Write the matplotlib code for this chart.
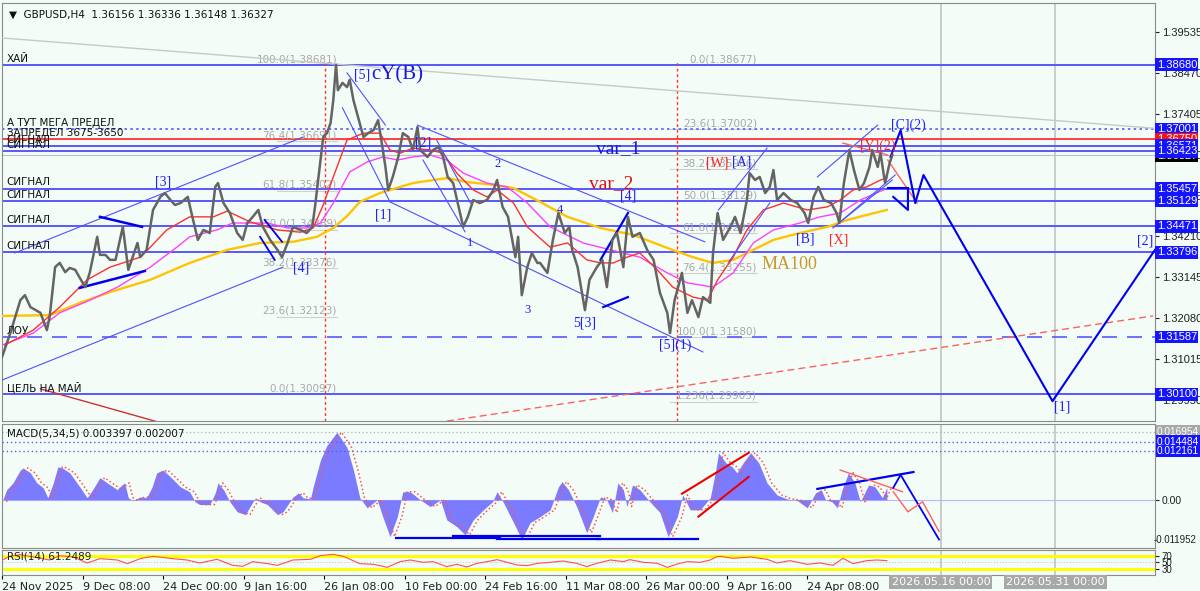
import numpy as np
import matplotlib.pyplot as plt
import matplotlib.transforms as mtransforms

# ---- price (H4 bars) ----
price_bar = [0, 9, 20, 25, 31, 42, 49, 52, 58, 63,
             69, 74, 80, 85, 91, 96, 104, 107, 113, 118,
             124, 132, 138, 148, 151, 158, 165, 173, 178, 184,
             189, 195, 203, 208, 214, 220, 227, 233, 236, 242,
             249, 257, 263, 268, 274, 280, 285, 293, 301, 306,
             312, 318, 326, 333, 339, 342, 348, 351, 355, 359,
             362, 365, 367, 372, 377, 380, 384, 389, 395, 400,
             406, 411, 415, 419, 422, 427, 433, 438, 444, 449,
             454, 457, 465, 471, 477, 482, 487, 493, 498, 504,
             509, 515, 522, 530, 537, 541, 547, 553, 557, 561,
             564, 568, 574, 579, 585, 588, 596, 602, 608, 615,
             620, 623, 629, 637, 642, 650, 656, 661, 667, 672,
             679, 684, 689, 697, 705, 712, 719, 727, 730, 735,
             743, 749, 754, 761, 766, 774, 777, 782, 788, 796,
             801, 807, 814, 817, 823, 828, 834, 839, 843, 847,
             854, 862, 869, 877, 881, 887, 892, 898, 906, 912,
             915, 920, 926, 931, 937, 942, 948, 951, 957, 960,
             965, 970, 973]
price_close = [1.3107, 1.3169, 1.3255, 1.3268, 1.3237, 1.3222, 1.3177, 1.3211, 1.3341, 1.3352,
               1.3328, 1.3339, 1.3334, 1.3313, 1.3289, 1.3328, 1.3420, 1.3373, 1.3373, 1.3360,
               1.3360, 1.3446, 1.3334, 1.3404, 1.3367, 1.3386, 1.3490, 1.3524, 1.3534, 1.3516,
               1.3503, 1.3508, 1.3524, 1.3472, 1.3412, 1.3438, 1.3430, 1.3550, 1.3560, 1.3508,
               1.3482, 1.3430, 1.3412, 1.3456, 1.3472, 1.3490, 1.3446, 1.3412, 1.3386, 1.3367,
               1.3404, 1.3446, 1.3438, 1.3430, 1.3446, 1.3498, 1.3620, 1.3680, 1.3690, 1.3716,
               1.3776, 1.3868, 1.3802, 1.3821, 1.3810, 1.3829, 1.3776, 1.3732, 1.3680, 1.3690,
               1.3698, 1.3724, 1.3664, 1.3602, 1.3542, 1.3576, 1.3628, 1.3690, 1.3680, 1.3646,
               1.3706, 1.3646, 1.3628, 1.3646, 1.3654, 1.3628, 1.3576, 1.3560, 1.3508, 1.3446,
               1.3472, 1.3516, 1.3508, 1.3516, 1.3542, 1.3568, 1.3498, 1.3472, 1.3420, 1.3367,
               1.3420, 1.3268, 1.3341, 1.3378, 1.3352, 1.3352, 1.3326, 1.3412, 1.3482, 1.3430,
               1.3446, 1.3386, 1.3341, 1.3229, 1.3308, 1.3341, 1.3360, 1.3289, 1.3412, 1.3430,
               1.3341, 1.3472, 1.3420, 1.3430, 1.3386, 1.3360, 1.3274, 1.3222, 1.3169, 1.3255,
               1.3326, 1.3222, 1.3255, 1.3211, 1.3263, 1.3248, 1.3378, 1.3482, 1.3412, 1.3446,
               1.3472, 1.3430, 1.3516, 1.3586, 1.3568, 1.3576, 1.3534, 1.3550, 1.3594, 1.3516,
               1.3534, 1.3516, 1.3508, 1.3482, 1.3456, 1.3524, 1.3550, 1.3516, 1.3508, 1.3482,
               1.3456, 1.3560, 1.3646, 1.3594, 1.3542, 1.3560, 1.3602, 1.3646, 1.3602, 1.3638,
               1.3560, 1.3612, 1.3633]

ma_fast_bar = [3, 34, 63, 93, 118, 151, 162, 180, 205, 231,
               246, 271, 301, 326, 340, 351, 362, 377, 395, 413,
               424, 435, 449, 468, 482, 497, 515, 530, 541, 559,
               574, 599, 618, 639, 654, 668, 683, 697, 716, 733,
               755, 771, 782, 799, 814, 832, 854, 880, 902, 916,
               930, 945, 960, 967]
ma_fast = [1.3138, 1.3177, 1.3237, 1.3308, 1.3341, 1.3367, 1.3393, 1.3438, 1.3472, 1.3472,
           1.3487, 1.3459, 1.3438, 1.3432, 1.3443, 1.3503, 1.3576, 1.3672, 1.3690, 1.3690,
           1.3646, 1.3638, 1.3651, 1.3646, 1.3638, 1.3586, 1.3542, 1.3524, 1.3542, 1.3508,
           1.3446, 1.3393, 1.3404, 1.3360, 1.3352, 1.3352, 1.3367, 1.3378, 1.3334, 1.3289,
           1.3263, 1.3255, 1.3308, 1.3367, 1.3438, 1.3490, 1.3508, 1.3490, 1.3498, 1.3516,
           1.3542, 1.3550, 1.3568, 1.3573]
ma_mid_bar = [0, 34, 63, 96, 126, 162, 191, 205, 235, 252,
              290, 312, 333, 348, 362, 380, 399, 416, 432, 449,
              468, 486, 504, 530, 552, 574, 599, 635, 665, 697,
              727, 749, 777, 799, 821, 843, 872, 894, 916, 938, 963]
ma_mid = [1.3138, 1.3169, 1.3222, 1.3255, 1.3289, 1.3341, 1.3393, 1.3420, 1.3438, 1.3456,
          1.3456, 1.3443, 1.3443, 1.3456, 1.3508, 1.3589, 1.3615, 1.3628, 1.3620, 1.3628,
          1.3633, 1.3620, 1.3586, 1.3560, 1.3550, 1.3508, 1.3446, 1.3404, 1.3386, 1.3367,
          1.3326, 1.3300, 1.3289, 1.3326, 1.3404, 1.3438, 1.3456, 1.3472, 1.3482, 1.3516, 1.3542]
ma100_bar = [0, 52, 85, 118, 162, 205, 246, 282, 318, 344,
             362, 377, 391, 413, 449, 486, 508, 537, 559, 588,
             618, 654, 690, 727, 755, 777, 799, 821, 843, 872,
             902, 924, 945, 967]
ma100 = [1.3214, 1.3216, 1.3248, 1.3276, 1.3308, 1.3352, 1.3386, 1.3404, 1.3407, 1.3420,
         1.3443, 1.3474, 1.3511, 1.3534, 1.3560, 1.3573, 1.3563, 1.3555, 1.3547, 1.3511,
         1.3472, 1.3443, 1.3425, 1.3391, 1.3367, 1.3352, 1.3360, 1.3386, 1.3412, 1.3430,
         1.3446, 1.3464, 1.3477, 1.3490]

macd_bar = [0, 5, 12, 20, 23, 31, 38, 45, 50, 56,
            61, 66, 74, 85, 93, 99, 107, 115, 126, 131,
            134, 138, 143, 151, 158, 164, 169, 176, 184, 195,
            205, 211, 216, 227, 233, 236, 242, 249, 257, 266,
            271, 277, 282, 290, 301, 307, 318, 324, 329, 337,
            340, 348, 355, 366, 377, 384, 391, 399, 410, 416,
            424, 432, 438, 446, 457, 468, 479, 486, 497, 506,
            515, 526, 536, 541, 548, 559, 568, 577, 588, 599,
            608, 612, 619, 628, 639, 646, 654, 661, 667, 673,
            679, 683, 689, 697, 708, 719, 728, 738, 744, 752,
            763, 774, 780, 783, 791, 798, 803, 810, 818, 827,
            836, 847, 858, 869, 880, 889, 895, 900, 907, 913,
            918, 925, 932, 938, 947, 954, 962, 967]
macd_val = [-0.0005, 0.0025, 0.0042, 0.0074, 0.0079, 0.0067, 0.0042, 0.0030, 0.0005, 0.0042,
            0.0082, 0.0079, 0.0067, 0.0032, 0.0005, 0.0025, 0.0055, 0.0042, 0.0025, 0.0037,
            0.0042, 0.0005, -0.0002, 0.0007, 0.0005, 0.0032, 0.0067, 0.0074, 0.0057, 0.0032,
            0.0020, -0.0005, -0.0012, -0.0012, 0.0017, 0.0042, 0.0025, -0.0005, -0.0030, -0.0037,
            -0.0017, 0.0005, -0.0005, -0.0012, -0.0037, -0.0030, 0.0007, 0.0017, 0.0005, 0.0002,
            0.0032, 0.0099, 0.0135, 0.0168, 0.0130, 0.0074, 0.0005, -0.0020, 0.0, -0.0042,
            -0.0092, -0.0042, 0.0020, 0.0020, 0.0, -0.0017, 0.0, -0.0050, -0.0067, -0.0087,
            -0.0050, -0.0025, -0.0005, 0.0020, -0.0007, -0.0057, -0.0099, -0.0057, -0.0042, -0.0025,
            0.0032, 0.0045, 0.0025, -0.0017, -0.0082, -0.0042, 0.0007, 0.0, -0.0032, 0.0042,
            0.0025, -0.0017, 0.0037, 0.0025, -0.0005, -0.0032, -0.0092, -0.0042, 0.0012, -0.0025,
            -0.0025, 0.0005, 0.0074, 0.0117, 0.0092, 0.0082, 0.0067, 0.0092, 0.0117, 0.0092,
            0.0042, 0.0012, 0.0002, -0.0002, -0.0020, 0.0017, 0.0025, 0.0, -0.0005, -0.0020,
            0.0025, 0.0067, 0.0042, -0.0005, 0.0037, 0.0032, 0.0005, 0.0030]

rsi_bar = [0, 9, 20, 34, 52, 63, 78, 93, 107, 126,
           137, 151, 165, 187, 202, 216, 235, 252, 263, 274,
           290, 301, 318, 337, 348, 362, 373, 391, 406, 421,
           435, 446, 460, 471, 486, 497, 508, 519, 530, 541,
           552, 563, 574, 585, 599, 613, 628, 639, 650, 665,
           679, 686, 701, 716, 727, 738, 749, 763, 774, 781,
           785, 799, 818, 836, 847, 861, 880, 894, 908, 919,
           930, 945, 956, 967]
rsi_val = [57, 68, 73, 66, 57, 70, 66, 48, 61, 57,
           46, 61, 68, 61, 57, 48, 59, 41, 38, 52,
           46, 41, 57, 59, 70, 74, 68, 46, 44, 35,
           52, 57, 50, 52, 37, 44, 36, 47, 52, 58,
           50, 42, 40, 47, 50, 54, 47, 37, 47, 57,
           52, 58, 50, 47, 35, 45, 52, 50, 57, 67,
           68, 62, 66, 59, 48, 55, 44, 48, 41, 62,
           46, 55, 57, 55]

# horizontal levels
levels = [1.38680, 1.37001, 1.36750, 1.36571, 1.36423, 1.35457, 1.35129,
          1.34471, 1.33796, 1.31587, 1.30100]
level_names = ["ХАЙ", "А ТУТ МЕГА ПРЕДЕЛ", "ЗАПРЕДЕЛ 3675-3650", "СИГНАЛ", "СИГНАЛ",
               "СИГНАЛ", "СИГНАЛ", "СИГНАЛ", "СИГНАЛ", "ЛОУ", "ЦЕЛЬ НА МАЙ"]
level_kind = ["solid", "dotted", "red", "solid", "solid", "solid", "solid",
              "solid", "solid", "dashed", "solid"]
bid = 1.36327
price_ticks = [1.39535, 1.38470, 1.37405, 1.36340, 1.35275, 1.34210,
               1.33145, 1.32080, 1.31015, 1.29950]
macd_low_label = "-0.011952"

# fibonacci grids
fib1 = [(100.0, 1.38681), (76.4, 1.36691), (61.8, 1.35402), (50.0, 1.34389),
        (38.2, 1.33376), (23.6, 1.32123), (0.0, 1.30097)]
fib2 = [(0.0, 1.38677), (23.6, 1.37002), (38.2, 1.35966), (50.0, 1.35129),
        (61.8, 1.34291), (76.4, 1.33255), (100.0, 1.31580), (1.236, 1.29905)]

date_ticks = ["24 Nov 2025", "9 Dec 08:00", "24 Dec 00:00", "9 Jan 16:00", "26 Jan 08:00",
              "10 Feb 00:00", "24 Feb 16:00", "11 Mar 08:00", "26 Mar 00:00",
              "9 Apr 16:00", "24 Apr 08:00"]
future_bars = [1026, 1151]
future_labels = ["2026.05.16 00:00", "2026.05.31 00:00"]

# trend lines drawn on the price chart: (bars, prices, colour, width, style)
trend_lines = [
    ([0, 1258], [1.3938, 1.3703], '#c8c8c8', 1.0, '-'),
    ([486, 1258], [1.2940, 1.3214], '#ff6060', 1.0, (0, (5, 3))),
    ([42, 167], [1.3024, 1.2940], '#d03030', 1.0, '-'),
    ([14, 329], [1.3378, 1.3680], '#5050ff', 0.8, '-'),
    ([0, 307], [1.3047, 1.3341], '#5050ff', 0.8, '-'),
    ([107, 153], [1.3472, 1.3446], '#0000ee', 1.8, '-'),
    ([85, 156], [1.3287, 1.3331], '#0000ee', 1.8, '-'),
    ([287, 306], [1.3464, 1.3407], '#0000ee', 1.3, '-'),
    ([282, 298], [1.3420, 1.3360], '#0000ee', 1.3, '-'),
    ([377, 419], [1.3847, 1.3711], '#5050ff', 0.8, '-'),
    ([372, 424], [1.3756, 1.3511], '#5050ff', 0.8, '-'),
    ([424, 766], [1.3511, 1.3120], '#5050ff', 0.8, '-'),
    ([454, 768], [1.3711, 1.3407], '#5050ff', 0.8, '-'),
    ([460, 506], [1.3620, 1.3433], '#5050ff', 0.8, '-'),
    ([475, 512], [1.3672, 1.3508], '#5050ff', 0.8, '-'),
    ([654, 684], [1.3360, 1.3482], '#0000ee', 1.6, '-'),
    ([657, 684], [1.3237, 1.3263], '#0000ee', 1.6, '-'),
    ([783, 836], [1.3490, 1.3651], '#5050ff', 0.8, '-'),
    ([794, 839], [1.3354, 1.3508], '#5050ff', 0.8, '-'),
    ([891, 957], [1.3576, 1.3711], '#5050ff', 0.8, '-'),
    ([908, 973], [1.3443, 1.3568], '#5050ff', 0.8, '-'),
    ([916, 976], [1.3459, 1.3581], '#5050ff', 0.8, '-'),
    ([919, 968], [1.3664, 1.3633], '#ff6060', 1.0, '-'),
    ([968, 1000], [1.3620, 1.3508], '#ff6060', 1.0, '-'),
    ([971, 982, 998, 1007, 1148, 1260], [1.3628, 1.3698, 1.3508, 1.3581, 1.2992, 1.3386],
     '#0000ee', 1.5, '-'),
    ([968, 990], [1.3547, 1.3547], '#0000ee', 1.5, '-'),
    ([974, 990, 990], [1.3524, 1.3490, 1.3542], '#0000ee', 1.5, '-'),
]
red_vlines = [(353, 1.3881), (738, 1.3878)]

# wave labels: (text, bar, price, colour, size)
wave_labels = [
    ("[5]", 393, 1.3842, '#2020ff', 10), ("cY(B)", 432, 1.3842, '#1818e0', 15),
    ("[3]", 176, 1.3563, '#2020ff', 10), ("[1]", 416, 1.3477, '#2020ff', 10),
    ("[2]", 460, 1.3664, '#2020ff', 10), ("2", 542, 1.3610, '#2020ff', 9),
    ("1", 512, 1.3404, '#2020ff', 9), ("3", 574, 1.3229, '#2020ff', 9),
    ("4", 610, 1.3490, '#2020ff', 9), ("5[3]", 637, 1.3196, '#2020ff', 10),
    ("[4]", 684, 1.3526, '#2020ff', 10), ("[4]", 327, 1.3339, '#2020ff', 10),
    ("[5](1)", 736, 1.3138, '#2020ff', 10), ("[A]", 808, 1.3615, '#2020ff', 10),
    ("[B]", 878, 1.3414, '#2020ff', 10), ("[C](2)", 990, 1.3711, '#2020ff', 10),
    ("[1]", 1159, 1.2977, '#2020ff', 10), ("[2]", 1249, 1.3409, '#2020ff', 10),
    ("[W]", 782, 1.3612, '#ff2020', 10), ("[X]", 914, 1.3412, '#ff2020', 10),
    ("[Y](2)", 957, 1.3657, '#ff2020', 10),
    ("var_1", 673, 1.3651, '#1818e0', 14), ("var_2", 666, 1.3558, '#e01010', 14),
    ("MA100", 861, 1.3347, '#c8982a', 13),
]

# MACD panel drawings
macd_lines = [
    ([430, 544], [-0.0094, -0.0094], '#0000ee', 1.6),
    ([493, 654], [-0.0089, -0.0089], '#0000ee', 1.6),
    ([541, 654], [-0.0097, -0.0097], '#0000ee', 1.6),
    ([650, 761], [-0.0097, -0.0097], '#0000ee', 1.6),
    ([743, 816], [0.0015, 0.0117], '#ee0000', 1.5),
    ([761, 816], [-0.0042, 0.0057], '#ee0000', 1.5),
    ([891, 996], [0.0027, 0.0069], '#0000ee', 1.6),
    ([916, 984], [0.0074, 0.0020], '#ff6060', 1.0),
    ([974, 982, 1024], [0.0030, 0.0062, -0.0099], '#0000ee', 1.3),
    ([974, 990, 1006, 1024], [0.0020, -0.0030, -0.0005, -0.0079], '#ff6060', 1.0),
]

BG = '#f3fcf7'
BLUE = '#5858ff'
XMAX = 1260
BOXFONT = 'Liberation Sans'

fig = plt.figure(figsize=(12, 5.91), dpi=100, facecolor=BG)
ax = fig.add_axes([0.0017, 0.2876, 0.9608, 0.7073], facecolor=BG)
axm = fig.add_axes([0.0017, 0.0728, 0.9608, 0.2098], facecolor=BG)
axr = fig.add_axes([0.0017, 0.0271, 0.9608, 0.0423], facecolor=BG)

for a in (ax, axm, axr):
    a.set_xlim(0, XMAX)
    for s in a.spines.values():
        s.set_color('#8a8a8a')
    a.yaxis.tick_right()
    a.tick_params(axis='y', direction='out', length=3, labelsize=7.5, pad=2, colors='#202020')
    for fb in future_bars:
        a.axvline(fb, color='#c4c4c4', lw=1.2, zorder=0)

ax.tick_params(axis='x', bottom=False, labelbottom=False)
axm.tick_params(axis='x', bottom=False, labelbottom=False)


def box(a, tr, val, txt, fc, size):
    a.text(1.0015, val, txt, transform=tr, fontsize=size, color='white', family=BOXFONT,
           va='center', ha='left', clip_on=False, zorder=10,
           bbox=dict(boxstyle='square,pad=0.12', fc=fc, ec='none'))


# ---------------- main price panel ----------------
ax.set_ylim(1.29402, 1.40290)
ax.set_yticks(price_ticks)
ax.set_yticklabels([f"{t:.5f}" for t in price_ticks], family=BOXFONT, fontsize=8)

trans = mtransforms.blended_transform_factory(ax.transAxes, ax.transData)

for lvl, name, kind in zip(levels, level_names, level_kind):
    if kind == 'red':
        ax.axhline(lvl, color='#ff3030', lw=1.3, zorder=2)
    elif kind == 'dotted':
        ax.axhline(lvl, color=BLUE, lw=1.2, ls=(0, (1.5, 2)), zorder=2)
    elif kind == 'dashed':
        ax.axhline(lvl, color=BLUE, lw=1.2, ls=(0, (9, 6)), zorder=2)
    else:
        ax.axhline(lvl, color=BLUE, lw=1.4, zorder=2)
    ax.text(0.004, lvl + 0.0003, name, transform=trans, fontsize=7.5,
            color='#101010', va='bottom', ha='left', zorder=6)

ax.axhline(bid, color='#c0c0c0', lw=0.8, zorder=1)
box(ax, trans, bid - 0.0002, f"{bid:.5f}", 'black', 8)
for lvl, kind in zip(levels, level_kind):
    box(ax, trans, lvl, f"{lvl:.5f}", '#ff1010' if kind == 'red' else '#1414ff', 8)

# fibonacci labels
for pct, val in fib1:
    ax.plot([300, 366], [val, val], color='#d0d0d0', lw=0.8, zorder=1)
    ax.text(366, val + 0.0002, f"{pct:.1f}({val:.5f})", fontsize=7.5, color='#a8a8a8',
            ha='right', va='bottom', zorder=3)
for pct, val in fib2:
    ax.plot([730, 825], [val, val], color='#d0d0d0', lw=0.8, zorder=1)
    txt = f"{pct:.3f}({val:.5f})" if pct == 1.236 else f"{pct:.1f}({val:.5f})"
    ax.text(825, val + 0.0002, txt, fontsize=7.5, color='#a8a8a8',
            ha='right', va='bottom', zorder=3)

for b, top in red_vlines:
    ax.plot([b, b], [1.29402, top], color='#ff3030', lw=1.0, ls=(0, (2, 2)), zorder=2)

for xs, ys, c, lw, ls in trend_lines:
    ax.plot(xs, ys, color=c, lw=lw, ls=ls, zorder=4)

ax.plot(ma100_bar, ma100, color='#ffc400', lw=1.7, zorder=3)
ax.plot(ma_mid_bar, ma_mid, color='#ff40ff', lw=1.0, zorder=3)
ax.plot(ma_fast_bar, ma_fast, color='#ff3030', lw=1.0, zorder=3)
ax.plot(price_bar, price_close, color='#646464', lw=1.8, zorder=5)

for txt, b, p, c, sz in wave_labels:
    ax.text(b, p, txt, color=c, fontsize=sz, family='Liberation Serif',
            ha='center', va='center', zorder=7)

ax.text(0.006, 0.985, "▼  GBPUSD,H4  1.36156 1.36336 1.36148 1.36327",
        transform=ax.transAxes, fontsize=7.5, color='#101010', va='top', ha='left')

# ---------------- MACD panel ----------------
axm.set_ylim(-0.0120, 0.01886)
axm.set_yticks([0.0])
axm.set_yticklabels(["0.00"], family=BOXFONT, fontsize=7.5)
fig.text(0.997, 0.0775, macd_low_label, family=BOXFONT, fontsize=7,
         color='#202020', ha='right', va='bottom')
axm.fill_between(macd_bar, 0, macd_val, color='#7b7bff', lw=0, zorder=2)
axm.axhline(0, color='#b8b8ff', lw=0.8, zorder=1)
axm.plot(np.array(macd_bar) + 5, macd_val, color='#ff5050', lw=1.1,
         ls=(0, (1, 1.6)), zorder=3)
transm = mtransforms.blended_transform_factory(axm.transAxes, axm.transData)
axm.axhline(0.016954, color='#b0b0b0', lw=0.9, ls=(0, (1, 2)))
axm.axhline(0.014484, color=BLUE, lw=1.0, ls=(0, (1, 2)))
axm.axhline(0.012161, color=BLUE, lw=1.0, ls=(0, (1, 2)))
box(axm, transm, 0.016954, "0.016954", '#a8a8a8', 7.3)
for v in (0.014484, 0.012161):
    box(axm, transm, v, f"{v:.6f}", '#1414ff', 7.3)
for xs, ys, c, lw in macd_lines:
    axm.plot(xs, ys, color=c, lw=lw, zorder=4)
axm.text(0.004, 0.96, "MACD(5,34,5) 0.003397 0.002007", transform=axm.transAxes,
         fontsize=7.5, color='#101010', va='top', ha='left')

# ---------------- RSI panel ----------------
axr.set_ylim(12, 87)
axr.set_yticks([70, 50, 30])
axr.set_yticklabels(["70", "50", "30"], fontsize=7, family=BOXFONT)
axr.axhline(70, color='#ffff00', lw=2.2, zorder=1)
axr.axhline(30, color='#ffff00', lw=2.2, zorder=1)
axr.axhline(50, color='#c0c0c0', lw=0.7, ls=(0, (1, 2)), zorder=1)
axr.plot(rsi_bar, rsi_val, color='#ff5050', lw=0.8, zorder=3)
axr.text(0.004, 0.92, "RSI(14) 61.2489", transform=axr.transAxes,
         fontsize=7.5, color='#202020', va='top', ha='left')

axr.set_xticks([88 * i for i in range(len(date_ticks))])
axr.set_xticklabels(date_ticks, fontsize=8, color='#202020')
for lbl in axr.get_xticklabels():
    lbl.set_ha('left')
axr.tick_params(axis='x', direction='out', length=3, pad=2)
for b, txt in zip(future_bars, future_labels):
    axr.text(b, -0.28, txt, transform=axr.get_xaxis_transform(), fontsize=8,
             color='white', ha='center', va='center', clip_on=False,
             bbox=dict(boxstyle='square,pad=0.2', fc='#a8a8a8', ec='none'))

fig.savefig('out.png', dpi=100, facecolor=BG)
